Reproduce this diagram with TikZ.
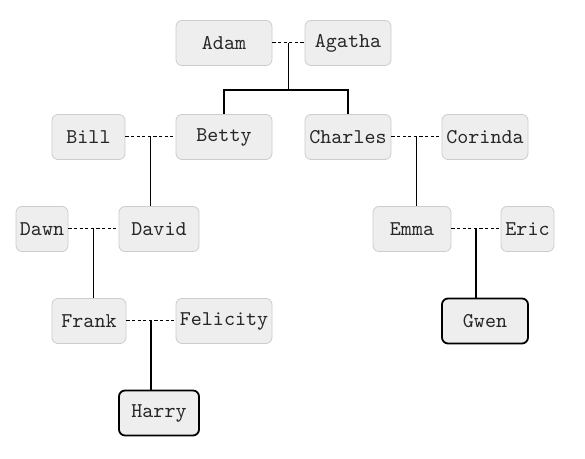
\documentclass[tikz,border=0pt]{standalone}
\usetikzlibrary{calc}

\tikzset{
  person/.style={draw=gray!40, fill=gray!13, rounded corners=3pt, minimum height=22.5pt,
    inner sep=0pt, text=black!85, font=\ttfamily\fontsize{10.5}{12}\selectfont},
  heir/.style={person, draw=black, line width=0.9pt},
  wed/.style={line width=0.5pt, dash pattern=on 1.6pt off 1.2pt},
  kin/.style={line width=0.6pt}
}

\begin{document}
\begin{tikzpicture}[x=0.5pt,y=-0.5pt]

\useasboundingbox (0,0) rectangle (585,459);

% first generation
\node[person, minimum width=48pt] (adam) at (224,43) {Adam};
\node[person, minimum width=43pt] (agatha) at (348,43) {Agatha};

% second generation
\node[person, minimum width=36.5pt] (bill) at (88.5,137) {Bill};
\node[person, minimum width=48pt] (betty) at (224,137) {Betty};
\node[person, minimum width=43pt] (charles) at (348,137) {Charles};
\node[person, minimum width=43pt] (corinda) at (485,137) {Corinda};

% third generation
\node[person, minimum width=26pt] (dawn) at (42,229) {Dawn};
\node[person, minimum width=40pt] (david) at (159,229) {David};
\node[person, minimum width=39pt] (emma) at (412,229) {Emma};
\node[person, minimum width=26.5pt] (eric) at (527.5,229) {Eric};

% fourth generation
\node[person, minimum width=37pt] (frank) at (89,321) {Frank};
\node[person, minimum width=48pt] (felicity) at (224,321) {Felicity};
\node[heir, minimum width=43pt] (gwen) at (485,321) {Gwen};

% fifth generation
\node[heir, minimum width=40pt] (harry) at (159,413) {Harry};

% marriages
\draw[wed] (adam) -- (agatha);
\draw[wed] (bill) -- (betty);
\draw[wed] (charles) -- (corinda);
\draw[wed] (dawn) -- (david);
\draw[wed] (emma) -- (eric);
\draw[wed] (frank) -- (felicity);

\coordinate (m1) at ($(adam.east)!0.5!(agatha.west)$);
\coordinate (m2) at ($(bill.east)!0.5!(betty.west)$);
\coordinate (m3) at ($(charles.east)!0.5!(corinda.west)$);
\coordinate (m4) at ($(dawn.east)!0.5!(david.west)$);
\coordinate (m5) at ($(emma.east)!0.5!(eric.west)$);
\coordinate (m6) at ($(frank.east)!0.5!(felicity.west)$);
\coordinate (fork) at ($(adam.south)!0.5!(betty.north)$);

% children
\draw[kin] (m1) -- (m1 |- fork) -| (betty.north);
\draw[kin] (m1 |- fork) -| (charles.north);
\draw[kin] (m2) -- (m2 |- david.north);
\draw[kin] (m3) -- (m3 |- emma.north);
\draw[kin] (m4) -- (m4 |- frank.north);
\draw[kin] (m5) -- (m5 |- gwen.north);
\draw[kin] (m6) -- (m6 |- harry.north);

\end{tikzpicture}
\end{document}
